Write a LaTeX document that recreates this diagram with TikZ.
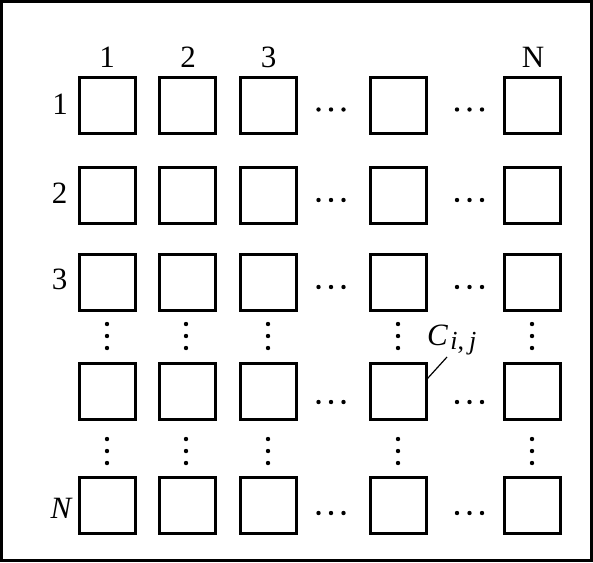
\documentclass[tikz,border=0pt]{standalone}
\usepackage{fontspec}
\setmainfont{Liberation Serif}
\usetikzlibrary{calc}
\begin{document}
\begin{tikzpicture}[x=1pt,y=-1pt,
  cell/.style={draw,line width=3pt,minimum size=56pt,inner sep=0pt},
  lab/.style={font=\fontsize{31}{31}\selectfont,anchor=base,inner sep=0pt},
  dotc/.style={fill=black,draw=none}]
\useasboundingbox (0,0) rectangle (593,562);
\draw[line width=3pt] (1.5,1.5) rectangle (591.5,560);
% cells
\def\cols{1/107.5,2/187,3/268.5,4/398,5/532}
\def\rows{1/105.5,2/195,3/282,4/391.5,5/505.5}
\foreach \r/\y in \rows {
  \foreach \c/\x in \cols {
    \node[cell] (c\r\c) at (\x,\y) {};
  }
}
% column labels
\node[lab] (k1) at (107,67) {1};
\node[lab] (k2) at (188,67) {2};
\node[lab] (k3) at (268.5,67) {3};
\node[lab] (kN) at (533,67) {N};
% row labels
\node[lab] (r1) at (60,114) {1};
\node[lab] (r2) at (59.5,203) {2};
\node[lab] (r3) at (59.5,289) {3};
\node[lab] (rN) at (61,518) {\itshape N};
% horizontal dots
\foreach \y in {109.5,200,287,402,513} {
  \foreach \x in {318.5,331,343.5,457,469.5,482} {
    \fill[dotc] (\x,\y) circle (2.2);
  }
}
% vertical dots
\foreach \x in {107,186,268,398,532} {
  \foreach \y in {324,336,348,439,451,463} {
    \fill[dotc] (\x,\y) circle (2.2);
  }
}
% C_{i,j} label
\node[font=\fontsize{31}{31}\selectfont,anchor=base west,inner sep=0pt] (cij) at (427,345)
  {\itshape C\kern2.5pt{\fontsize{26}{26}\selectfont\raisebox{-4pt}{\itshape i\upshape,\kern5pt\itshape j}}};
\coordinate (ltop) at (447,357);
\draw[line width=1.2pt] (ltop) -- ($(c44.north east)!0.28!(c44.south east)$);
\end{tikzpicture}
\end{document}
